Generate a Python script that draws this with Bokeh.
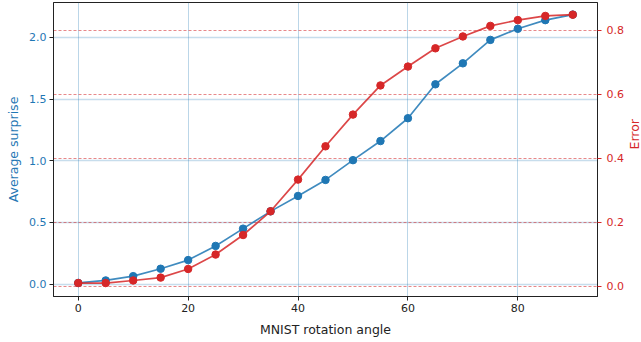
import math
from bokeh.plotting import figure
from bokeh.models import Range1d, LinearAxis, FixedTicker, Grid, NumeralTickFormatter
from bokeh.embed import file_html
from bokeh.resources import INLINE

# ---- data ----
angles = [0, 5, 10, 15, 20, 25, 30, 35, 40, 45, 50, 55, 60, 65, 70, 75, 80, 85, 90]
avg_surprise = [0.01, 0.03, 0.065, 0.125, 0.195, 0.31, 0.45, 0.59, 0.715, 0.845,
                1.005, 1.16, 1.345, 1.62, 1.79, 1.98, 2.07, 2.14, 2.185]
error = [0.01, 0.01, 0.018, 0.027, 0.054, 0.099, 0.16, 0.234, 0.333, 0.437,
         0.536, 0.627, 0.686, 0.743, 0.78, 0.813, 0.831, 0.844, 0.848]

x_ticks = [0, 20, 40, 60, 80]
left_ticks = [0.0, 0.5, 1.0, 1.5, 2.0]
right_ticks = [0.0, 0.2, 0.4, 0.6, 0.8]

x_label = "MNIST rotation angle"
left_label = "Average surprise"
right_label = "Error"

BLUE = "#1f77b4"
RED = "#d62728"
FONT = "DejaVu Sans"

p = figure(frame_width=544, frame_height=294,
           x_range=Range1d(-4.5, 94.5), y_range=Range1d(-0.1, 2.283),
           output_backend="svg", toolbar_location=None,
           min_border_left=45, min_border_right=0, min_border_top=6, min_border_bottom=44)
p.styles = {"margin-top": "-4px", "margin-left": "3px"}
p.outline_line_color = "#222222"
p.outline_line_width = 1
p.background_fill_color = "white"
p.border_fill_color = "white"

p.extra_y_ranges = {"err": Range1d(-0.032, 0.886)}

# x axis
xa = p.xaxis[0]
xa.ticker = FixedTicker(ticks=x_ticks)
xa.axis_label = x_label
# left axis
ya = p.yaxis[0]
ya.ticker = FixedTicker(ticks=left_ticks)
ya.formatter = NumeralTickFormatter(format="0.0")
ya.axis_label = left_label
# right axis
ra = LinearAxis(y_range_name="err", ticker=FixedTicker(ticks=right_ticks),
                formatter=NumeralTickFormatter(format="0.0"), axis_label=right_label)
p.add_layout(ra, "right")

for ax in (xa, ya, ra):
    ax.minor_tick_line_color = None
    ax.major_tick_in = 0
    ax.major_tick_out = 4
    ax.major_label_standoff = 3
    ax.axis_label_standoff = 5
    ax.major_label_text_font = FONT
    ax.major_label_text_font_size = "11px"
    ax.axis_label_text_font = FONT
    ax.axis_label_text_font_size = "12.5px"
    ax.axis_label_text_font_style = "normal"
    ax.axis_line_color = "#222222"
    ax.major_tick_line_color = "#222222"

xa.major_label_text_color = "#222222"
xa.axis_label_text_color = "#222222"
xa.axis_label_standoff = 7
ya.major_label_text_color = BLUE
ya.axis_label_text_color = BLUE
ra.major_label_text_color = RED
ra.axis_label_text_color = RED
ra.major_tick_line_color = RED
ra.major_label_standoff = 5
ra.axis_label_standoff = 8
ra.axis_label_orientation = math.pi / 2

# grids
p.xgrid.grid_line_color = BLUE
p.xgrid.grid_line_alpha = 0.3
p.xgrid.grid_line_width = 1
p.xgrid.ticker = xa.ticker
p.ygrid.grid_line_color = BLUE
p.ygrid.grid_line_alpha = 0.25
p.ygrid.grid_line_width = 1.5
p.ygrid.ticker = ya.ticker
rgrid = Grid(dimension=1, ticker=ra.ticker, y_range_name="err",
             grid_line_color=RED, grid_line_alpha=0.55, grid_line_width=1,
             grid_line_dash="3 2")
p.add_layout(rgrid)

# series
p.line(angles, avg_surprise, line_color=BLUE, line_width=1.7, line_alpha=0.85)
p.scatter(angles, avg_surprise, size=7.5, fill_color=BLUE, line_color=BLUE)
p.line(angles, error, line_color=RED, line_width=1.7, line_alpha=0.85, y_range_name="err")
p.scatter(angles, error, size=7.5, fill_color=RED, line_color=RED, y_range_name="err")

open("out.html", "w").write(file_html(p, INLINE))
